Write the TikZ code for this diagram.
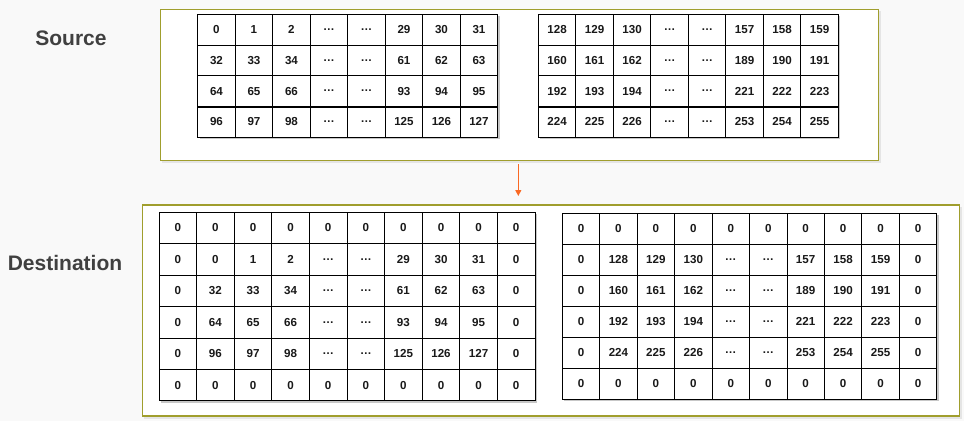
\documentclass[tikz,border=0pt]{standalone}
\usepackage{fontspec}
\setmainfont{Liberation Sans}
\usetikzlibrary{arrows.meta}
\definecolor{framecol}{RGB}{160,158,45}
\definecolor{arrowcol}{RGB}{250,105,35}
\definecolor{labelcol}{RGB}{64,64,64}
\newcommand\mkval[3]{%
  \pgfmathtruncatemacro\tmpbase{32*#1+#3}%
  \ifnum#2<3 \pgfmathtruncatemacro\cellv{\tmpbase+#2}%
  \else\ifnum#2<5 \def\cellv{…}%
  \else\pgfmathtruncatemacro\cellv{\tmpbase+#2+24}\fi\fi}
\newcommand\mkdval[3]{%
  \pgfmathtruncatemacro\isborder{or(or(#1==0,#1==5),or(#2==0,#2==9))}%
  \ifnum\isborder=1 \def\cellv{0}%
  \else\pgfmathtruncatemacro\rr{#1-1}\pgfmathtruncatemacro\cc{#2-1}\mkval{\rr}{\cc}{#3}\fi}
\tikzset{
  cell/.style={draw=black, line width=0.8pt, fill=white, inner sep=0pt,
    font=\fontsize{11.6}{13}\selectfont\bfseries, text=black!90},
  srccell/.style={cell, minimum width=37.5pt, minimum height=30.7pt},
  dlcell/.style={cell, minimum width=37.6pt, minimum height=31.4pt},
  drcell/.style={cell, minimum width=37.44pt, minimum height=30.95pt},
  framebox/.style={draw=framecol, line width=1.2pt, fill=white, inner sep=0pt},
  tabshadow/.style={fill=black, opacity=0.22},
  title/.style={font=\fontsize{21}{25}\selectfont\bfseries, text=labelcol},
  sep/.style={line width=1.8pt, black}
}
\begin{document}
\begin{tikzpicture}[x=1pt,y=-1pt]
\fill[gray!5] (0,0) rectangle (964,421);
\useasboundingbox (0,0) rectangle (964,421);
% frames
\fill[black,opacity=0.08] (162.2,11) rectangle (880.5,163);
\fill[black,opacity=0.08] (144.2,207) rectangle (961.5,418.5);
\node[framebox, minimum width=717.6pt, minimum height=151.4pt] (srcframe) at (519.5,85) {};
\node[framebox, minimum width=816.6pt, minimum height=211pt] (dstframe) at (551,310.5) {};
% labels
\node[title] (srclabel) at (71,38.3) {Source};
\node[title] (dstlabel) at (65,263.3) {Destination};
% source shadows
\fill[tabshadow] (199.7,16.3) rectangle (499.7,139.1);
\fill[tabshadow] (540.3,16.3) rectangle (840.3,139.1);
% source left
\foreach \r in {0,...,3}{\foreach \c in {0,...,7}{
  \mkval{\r}{\c}{0}
  \node[srccell] (sl-\r-\c) at ({197.7+37.5*(\c+0.5)},{14.3+30.7*(\r+0.5)}) {\cellv};
}}
% source right
\foreach \r in {0,...,3}{\foreach \c in {0,...,7}{
  \mkval{\r}{\c}{128}
  \node[srccell] (sr-\r-\c) at ({538.3+37.5*(\c+0.5)},{14.3+30.7*(\r+0.5)}) {\cellv};
}}
\draw[sep] (sl-0-0.south west) -- (sl-0-7.south east);
\draw[sep] (sl-2-0.south west) -- (sl-2-7.south east);
\draw[sep] (sr-0-0.south west) -- (sr-0-7.south east);
\draw[sep] (sr-2-0.south west) -- (sr-2-7.south east);
% destination shadows
\fill[tabshadow] (161,214.3) rectangle (537,402.7);
\fill[tabshadow] (564.3,215.3) rectangle (938.7,401);
% destination left
\foreach \r in {0,...,5}{\foreach \c in {0,...,9}{
  \mkdval{\r}{\c}{0}
  \node[dlcell] (dl-\r-\c) at ({159+37.6*(\c+0.5)},{212.3+31.4*(\r+0.5)}) {\cellv};
}}
% destination right
\foreach \r in {0,...,5}{\foreach \c in {0,...,9}{
  \mkdval{\r}{\c}{128}
  \node[drcell] (dr-\r-\c) at ({562.3+37.44*(\c+0.5)},{213.3+30.95*(\r+0.5)}) {\cellv};
}}
% arrow
\coordinate (arrowstart) at (518.3,164);
\coordinate (arrowend) at (518.3,196);
\draw[arrowcol, line width=1.2pt, -{Triangle[width=6pt,length=6pt]}] (arrowstart) -- (arrowend);
\end{tikzpicture}
\end{document}
